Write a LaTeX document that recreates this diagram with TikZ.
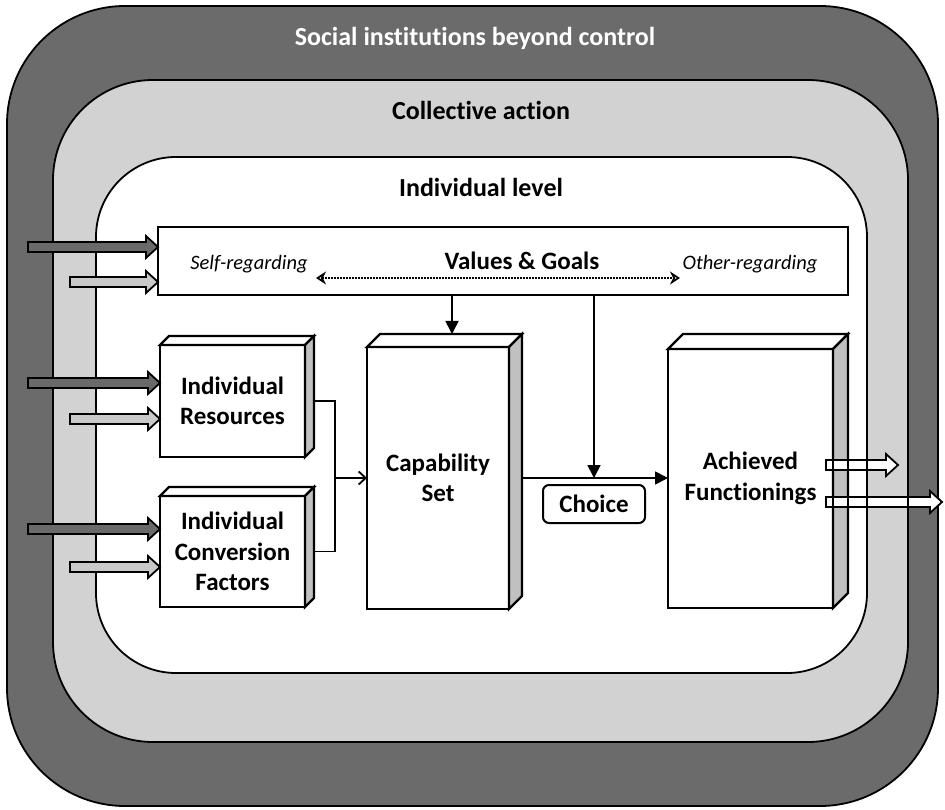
\documentclass[tikz,border=0pt]{standalone}
\usepackage{fontspec}
\setmainfont{Carlito}[Ligatures=NoCommon]
\usetikzlibrary{arrows.meta,calc}
\definecolor{darkband}{HTML}{6B6B6B}
\definecolor{lightband}{HTML}{D2D2D2}
\definecolor{sidegray}{HTML}{C0C0C0}
\definecolor{darkarrow}{HTML}{6A6A6A}
\definecolor{lightarrow}{HTML}{C9C9C9}
\tikzset{
  band/.style={draw=black, line width=1.8pt},
  boxline/.style={draw=black, line width=2.2pt, line join=miter},
  frontbox/.style={boxline, fill=white, outer sep=0pt, inner sep=0pt, align=center,
    font=\bfseries\fontsize{25}{30.5}\selectfont},
  blockline/.style={draw=black, line width=1.8pt, line join=miter},
  flow/.style={draw=black, line width=1.8pt},
  title/.style={font=\bfseries\fontsize{26}{30}\selectfont, inner sep=0pt},
  regard/.style={font=\itshape\fontsize{20.5}{24}\selectfont, inner sep=0pt},
}
\newcommand\solidbox[2]{%
  \draw[boxline, fill=white] (#1.north west) -- ++(#2,-#2) -- ($(#1.north east)+(#2,-#2)$) -- (#1.north east) -- cycle;
  \draw[boxline, fill=sidegray] (#1.north east) -- ++(#2,-#2) -- ($(#1.south east)+(#2,-#2)$) -- (#1.south east) -- cycle;
}
\newcommand\blockarrow[3]{%
  \draw[blockline, fill=#3] let \p1=(#1), \p2=(#2) in
    (\x1,\y1+5pt) -- (\x2-12pt,\y1+5pt) -- (\x2-12pt,\y1+11pt) -- (\x2,\y1)
    -- (\x2-12pt,\y1-11pt) -- (\x2-12pt,\y1-5pt) -- (\x1,\y1-5pt) -- cycle;
}
\begin{document}
\begin{tikzpicture}[x=1pt,y=-1pt]
\useasboundingbox (0,0) rectangle (945,810);
% bands
\draw[band, fill=darkband, rounded corners=118pt] (7,6) rectangle (938,806);
\draw[band, fill=lightband, rounded corners=100pt] (53,80) rectangle (908,742);
\draw[band, fill=white, rounded corners=80pt] (96,157) rectangle (867,673);
\node[title, text=white] (social) at (475,38) {Social institutions beyond control};
\node[title] (collective) at (481,110) {Collective action};
\node[title] (indiv) at (481,187) {Individual level};

% values and goals
\node[boxline, fill=white, outer sep=0pt, minimum width=690pt, minimum height=68pt] (vg) at (503,261) {};
\node[title, font=\bfseries\fontsize{25}{29}\selectfont] (vgt) at (522,261) {Values \& Goals};
\node[regard] (sr) at (249,264) {Self-regarding};
\node[regard] (og) at (750,264) {Other-regarding};
\coordinate (dl) at (316,278);
\coordinate (dr) at (680,278);
\draw[line width=1.7pt, dash pattern=on 1.7pt off 1.3pt,
  {Stealth[length=10pt,width=13pt,open,line width=1.8pt]}-{Stealth[length=10pt,width=13pt,open,line width=1.8pt]}] (dl) -- (dr);

% 3D boxes
\node[frontbox, minimum width=145pt, minimum height=112pt] (res) at (232.5,401) {Individual\\Resources};
\solidbox{res}{9}
\node[frontbox, minimum width=145pt, minimum height=111pt] (conv) at (232.5,551.5) {Individual\\Conversion\\Factors};
\solidbox{conv}{9}
\node[frontbox, minimum width=142pt, minimum height=262pt] (cap) at (438,478) {Capability\\Set};
\solidbox{cap}{13}
\node[frontbox, minimum width=165pt, minimum height=259pt] (ach) at (750.5,478.5) {Achieved\\Functionings};
\solidbox{ach}{15}

% choice
\node[draw=black, line width=2pt, rounded corners=6pt, fill=white, minimum width=102pt,
  minimum height=38pt, inner sep=0pt, font=\bfseries\fontsize{25}{29}\selectfont] (choice) at (594,504) {Choice};

% connectors
\coordinate (j) at (335,478);
\draw[flow] ($(res.east)+(9,0)$) -- (res.east -| j) -- (conv.east -| j) -- ($(conv.east)+(9,0)$);
\draw[flow, -{Straight Barb[length=7pt,width=13pt,line width=1.8pt]}] (j) -- (cap.west |- j);
\coordinate (capin) at (452,334);
\draw[flow, -{Triangle[length=13pt,width=13pt]}] (vg.south -| capin) -- (capin);
\coordinate (capout) at (522,478);
\draw[flow, -{Triangle[length=13pt,width=13pt]}] (capout) -- (ach.west |- capout);
\draw[flow, -{Triangle[length=13pt,width=13pt]}] (vg.south -| choice) -- (choice.north |- capout);

% left inputs
\coordinate (a1) at (28,247);
\coordinate (b1) at (70,282);
\coordinate (a2) at (28,383);
\coordinate (b2) at (70,419);
\coordinate (a3) at (28,529);
\coordinate (b3) at (70,567);
\blockarrow{a1}{a1 -| vg.west}{darkarrow}
\blockarrow{b1}{b1 -| vg.west}{lightarrow}
\blockarrow{a2}{a2 -| res.west}{darkarrow}
\blockarrow{b2}{b2 -| res.west}{lightarrow}
\blockarrow{a3}{a3 -| conv.west}{darkarrow}
\blockarrow{b3}{b3 -| conv.west}{lightarrow}

% right outputs
\coordinate (o1) at (898,465);
\coordinate (o2) at (942,502);
\blockarrow{o1 -| 826,0}{o1}{white}
\blockarrow{o2 -| 826,0}{o2}{white}
% outlines passing over the outputs
\draw[boxline] (ach.north east) -- (ach.south east);
\draw[boxline] ($(ach.north east)+(15,-15)$) -- ($(ach.south east)+(15,-15)$);
\draw[band] (867,440) -- (867,520);
\draw[band] (908,440) -- (908,520);
\end{tikzpicture}
\end{document}
